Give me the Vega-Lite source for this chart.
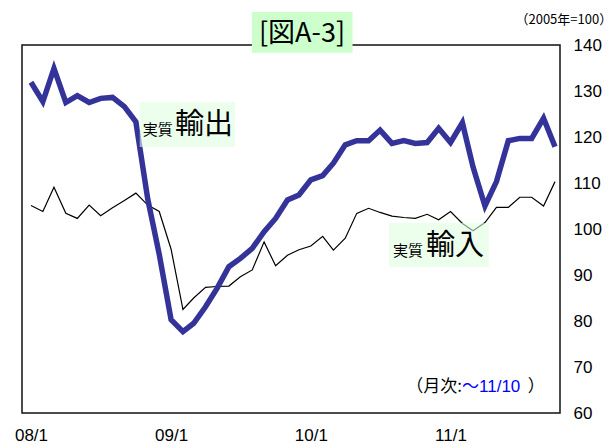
{
  "$schema": "https://vega.github.io/schema/vega-lite/v6.json",
  "width": 538,
  "height": 368,
  "autosize": {"type": "none"},
  "padding": {"left": 22, "top": 45, "right": 54, "bottom": 31},
  "background": "white",
  "config": {
    "view": {"stroke": "#111111", "strokeWidth": 1.5},
    "font": "Liberation Sans",
    "axis": {"grid": false, "ticks": false, "domain": false, "labelFontSize": 17, "labelColor": "#000000", "labelFont": "Liberation Sans"},
    "axisX": {"labelPadding": 14, "labelFlush": false},
    "axisY": {"labelPadding": 13}
  },
  "datasets": {
    "series": [
      {"date": "2008-01-01", "export": 131.9, "import": 105.1},
      {"date": "2008-02-01", "export": 127.7, "import": 103.8},
      {"date": "2008-03-01", "export": 134.9, "import": 109.1},
      {"date": "2008-04-01", "export": 127.5, "import": 103.4},
      {"date": "2008-05-01", "export": 129.0, "import": 102.3},
      {"date": "2008-06-01", "export": 127.5, "import": 105.2},
      {"date": "2008-07-01", "export": 128.4, "import": 102.9},
      {"date": "2008-08-01", "export": 128.6, "import": 104.6},
      {"date": "2008-09-01", "export": 126.6, "import": 106.2},
      {"date": "2008-10-01", "export": 123.3, "import": 107.8},
      {"date": "2008-11-01", "export": 106.5, "import": 105.2},
      {"date": "2008-12-01", "export": 94.5, "import": 103.8},
      {"date": "2009-01-01", "export": 80.3, "import": 95.6},
      {"date": "2009-02-01", "export": 77.7, "import": 82.5},
      {"date": "2009-03-01", "export": 79.5, "import": 85.0},
      {"date": "2009-04-01", "export": 83.1, "import": 87.3},
      {"date": "2009-05-01", "export": 87.1, "import": 87.5},
      {"date": "2009-06-01", "export": 91.8, "import": 87.6},
      {"date": "2009-07-01", "export": 93.6, "import": 89.6},
      {"date": "2009-08-01", "export": 95.8, "import": 91.1},
      {"date": "2009-09-01", "export": 99.4, "import": 97.2},
      {"date": "2009-10-01", "export": 102.3, "import": 92.0},
      {"date": "2009-11-01", "export": 106.3, "import": 94.3},
      {"date": "2009-12-01", "export": 107.4, "import": 95.5},
      {"date": "2010-01-01", "export": 110.7, "import": 96.3},
      {"date": "2010-02-01", "export": 111.6, "import": 98.4},
      {"date": "2010-03-01", "export": 114.3, "import": 95.4},
      {"date": "2010-04-01", "export": 118.3, "import": 98.0},
      {"date": "2010-05-01", "export": 119.2, "import": 103.4},
      {"date": "2010-06-01", "export": 119.2, "import": 104.5},
      {"date": "2010-07-01", "export": 121.5, "import": 103.6},
      {"date": "2010-08-01", "export": 118.6, "import": 102.8},
      {"date": "2010-09-01", "export": 119.2, "import": 102.5},
      {"date": "2010-10-01", "export": 118.6, "import": 102.3},
      {"date": "2010-11-01", "export": 118.8, "import": 103.2},
      {"date": "2010-12-01", "export": 121.9, "import": 102.0},
      {"date": "2011-01-01", "export": 118.8, "import": 103.8},
      {"date": "2011-02-01", "export": 123.1, "import": 101.2},
      {"date": "2011-03-01", "export": 113.4, "import": 99.6},
      {"date": "2011-04-01", "export": 105.0, "import": 101.4},
      {"date": "2011-05-01", "export": 110.3, "import": 104.7},
      {"date": "2011-06-01", "export": 119.2, "import": 104.7},
      {"date": "2011-07-01", "export": 119.7, "import": 106.9},
      {"date": "2011-08-01", "export": 119.7, "import": 106.9},
      {"date": "2011-09-01", "export": 124.1, "import": 105.0},
      {"date": "2011-10-01", "export": 117.9, "import": 110.3}
    ],
    "titlebox": [{"x": "2009-07-31", "x2": "2010-04-20", "y": 138.3, "y2": 147.2}],
    "notebox": [
      {"x": "2008-10-11", "x2": "2009-06-17", "y": 117.8, "y2": 127.6},
      {"x": "2010-07-24", "x2": "2011-04-11", "y": 91.7, "y2": 101.3}
    ],
    "titletext": [{"date": "2009-12-09", "v": 142.4, "text": "[図A-3]"}],
    "unittext": [{"date": "2011-10-24", "v": 145.4, "text": "（2005年=100）"}],
    "smalltext": [
      {"date": "2008-10-19", "v": 121.5, "text": "実質"},
      {"date": "2010-08-04", "v": 95.3, "text": "実質"}
    ],
    "bigtext": [
      {"date": "2009-01-11", "v": 122.7, "text": "輸出"},
      {"date": "2010-10-29", "v": 96.3, "text": "輸入"}
    ],
    "notetext1": [{"date": "2011-01-31", "v": 65.65, "text": "（月次:"}],
    "notetext2": [{"date": "2011-01-31", "v": 65.65, "text": "～11/10"}],
    "notetext3": [{"date": "2011-07-22", "v": 65.65, "text": "）"}]
  },
  "layer": [
    {
      "data": {"name": "series"},
      "mark": {"type": "line", "color": "#000000", "strokeWidth": 1.2},
      "encoding": {
        "x": {
          "field": "date", "type": "temporal", "title": null,
          "scale": {"type": "utc", "domain": [
            {"year": 2007, "month": 12, "date": 8, "hours": 12, "utc": true},
            {"year": 2011, "month": 10, "date": 14, "utc": true}
          ]},
          "axis": {
            "values": [
              {"year": 2008, "month": 1, "date": 1, "utc": true},
              {"year": 2009, "month": 1, "date": 1, "utc": true},
              {"year": 2010, "month": 1, "date": 1, "utc": true},
              {"year": 2011, "month": 1, "date": 1, "utc": true}
            ],
            "format": "%y/%-m", "title": null
          }
        },
        "y": {
          "field": "import", "type": "quantitative", "title": null,
          "scale": {"domain": [60, 140], "nice": false, "zero": false},
          "axis": {"orient": "right", "values": [60, 70, 80, 90, 100, 110, 120, 130, 140], "title": null}
        }
      }
    },
    {
      "data": {"name": "series"},
      "mark": {"type": "line", "color": "#333399", "strokeWidth": 5.5},
      "encoding": {
        "x": {"field": "date", "type": "temporal", "title": null},
        "y": {"field": "export", "type": "quantitative", "title": null}
      }
    },
    {
      "data": {"name": "notebox"},
      "mark": {"type": "rect", "color": "#e0fde0", "opacity": 0.6},
      "encoding": {
        "x": {"field": "x", "type": "temporal", "title": null},
        "x2": {"field": "x2"},
        "y": {"field": "y", "type": "quantitative", "title": null},
        "y2": {"field": "y2"}
      }
    },
    {
      "data": {"name": "titlebox"},
      "mark": {"type": "rect", "color": "#ccffcc", "opacity": 1},
      "encoding": {
        "x": {"field": "x", "type": "temporal", "title": null},
        "x2": {"field": "x2"},
        "y": {"field": "y", "type": "quantitative", "title": null},
        "y2": {"field": "y2"}
      }
    },
    {
      "data": {"name": "titletext"},
      "mark": {"type": "text", "font": "Noto Sans CJK JP", "fontSize": 27, "align": "center", "baseline": "middle", "color": "#000000"},
      "encoding": {
        "x": {"field": "date", "type": "temporal", "title": null},
        "y": {"field": "v", "type": "quantitative", "title": null},
        "text": {"field": "text"}
      }
    },
    {
      "data": {"name": "unittext"},
      "mark": {"type": "text", "font": "Noto Sans CJK JP", "fontSize": 13, "align": "center", "baseline": "middle", "color": "#000000"},
      "encoding": {
        "x": {"field": "date", "type": "temporal", "title": null},
        "y": {"field": "v", "type": "quantitative", "title": null},
        "text": {"field": "text"}
      }
    },
    {
      "data": {"name": "smalltext"},
      "mark": {"type": "text", "font": "Noto Sans CJK JP", "fontSize": 15, "align": "left", "baseline": "middle", "color": "#000000"},
      "encoding": {
        "x": {"field": "date", "type": "temporal", "title": null},
        "y": {"field": "v", "type": "quantitative", "title": null},
        "text": {"field": "text"}
      }
    },
    {
      "data": {"name": "bigtext"},
      "mark": {"type": "text", "font": "Noto Sans CJK JP", "fontSize": 29, "align": "left", "baseline": "middle", "color": "#000000"},
      "encoding": {
        "x": {"field": "date", "type": "temporal", "title": null},
        "y": {"field": "v", "type": "quantitative", "title": null},
        "text": {"field": "text"}
      }
    },
    {
      "data": {"name": "notetext1"},
      "mark": {"type": "text", "font": "Noto Sans CJK JP", "fontSize": 17, "align": "right", "baseline": "middle", "color": "#000000"},
      "encoding": {
        "x": {"field": "date", "type": "temporal", "title": null},
        "y": {"field": "v", "type": "quantitative", "title": null},
        "text": {"field": "text"}
      }
    },
    {
      "data": {"name": "notetext2"},
      "mark": {"type": "text", "font": "Liberation Sans, Noto Sans CJK JP", "fontSize": 17, "align": "left", "baseline": "middle", "color": "#0000ff"},
      "encoding": {
        "x": {"field": "date", "type": "temporal", "title": null},
        "y": {"field": "v", "type": "quantitative", "title": null},
        "text": {"field": "text"}
      }
    },
    {
      "data": {"name": "notetext3"},
      "mark": {"type": "text", "font": "Noto Sans CJK JP", "fontSize": 17, "align": "left", "baseline": "middle", "color": "#000000"},
      "encoding": {
        "x": {"field": "date", "type": "temporal", "title": null},
        "y": {"field": "v", "type": "quantitative", "title": null},
        "text": {"field": "text"}
      }
    }
  ]
}
